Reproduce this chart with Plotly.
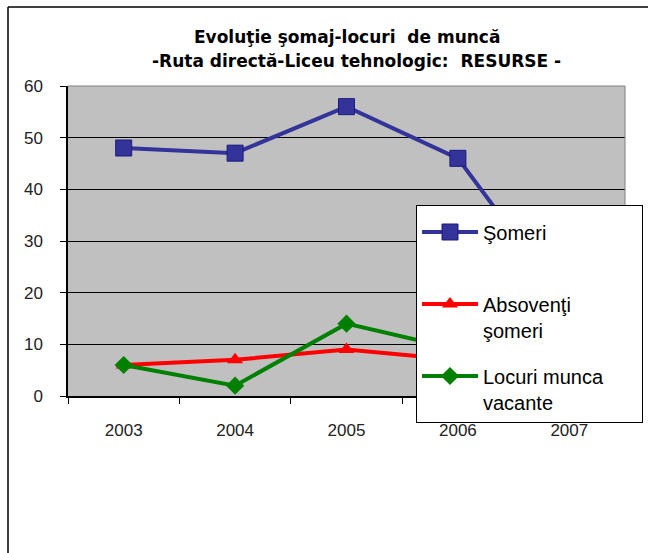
import plotly.graph_objects as go

years = ["2003", "2004", "2005", "2006", "2007"]
someri = [48, 47, 56, 46, 17]
absolventi_someri = [6, 7, 9, 7, 5]
locuri_vacante = [6, 2, 14, 9, 8]
y_ticks = [0, 10, 20, 30, 40, 50, 60]

W, H = 648, 553
L, R, T, B = 68, 625, 86, 396  # plot area in pixels

NB = "\u00a0"

fig = go.Figure()

fig.add_trace(go.Scatter(
    x=years, y=someri, name="Şomeri<br>" + NB, mode="lines+markers",
    line=dict(color="#333399", width=4),
    marker=dict(symbol="square", size=16, color="#333399",
                line=dict(color="#1a1a80", width=1)),
    legendgroup="a", cliponaxis=False))
fig.add_trace(go.Scatter(
    x=years, y=absolventi_someri, name="Absovenţi<br>şomeri", mode="lines+markers",
    line=dict(color="#FF0000", width=4),
    marker=dict(symbol="triangle-up", size=14, color="#FF0000"),
    legendgroup="b", cliponaxis=False))
fig.add_trace(go.Scatter(
    x=years, y=locuri_vacante, name="Locuri munca" + NB * 6 + "<br>vacante",
    mode="lines+markers",
    line=dict(color="#008000", width=4),
    marker=dict(symbol="diamond", size=14, color="#008000"),
    legendgroup="c", cliponaxis=False))

def px_x(p):
    return (p - L) / (R - L)

def px_y(p):
    return (B - p) / (B - T)

shapes = [
    # plot area frame (top and right edges)
    dict(type="line", xref="paper", yref="paper", x0=0, x1=1, y0=1, y1=1,
         line=dict(color="#808080", width=1)),
    dict(type="line", xref="paper", yref="paper", x0=1, x1=1, y0=0, y1=1,
         line=dict(color="#808080", width=1)),
    # chart border
    dict(type="line", xref="paper", yref="paper", x0=px_x(8), x1=px_x(8),
         y0=px_y(7), y1=px_y(553), line=dict(color="#000000", width=1.5)),
    dict(type="line", xref="paper", yref="paper", x0=px_x(8), x1=px_x(648),
         y0=px_y(7), y1=px_y(7), line=dict(color="#000000", width=1.5)),
]

title_font = dict(family="DejaVu Sans, sans-serif", size=17, color="#000000")

fig.update_layout(
    width=W, height=H,
    margin=dict(l=L, r=W - R, t=T, b=H - B, autoexpand=False),
    paper_bgcolor="white",
    plot_bgcolor="#C0C0C0",
    font=dict(family="Liberation Sans, Arial, sans-serif", color="#000000"),
    showlegend=True,
    legend=dict(
        x=px_x(416), y=px_y(205), xanchor="left", yanchor="top",
        bgcolor="white", bordercolor="#000000", borderwidth=1,
        font=dict(size=20, color="#000000"),
        title=dict(text=NB, font=dict(size=5)),
        tracegroupgap=17, valign="top", itemwidth=56,
    ),
    annotations=[
        dict(text="<b>Evoluţie şomaj-locuri  de muncă</b>", xref="paper", yref="paper",
             x=px_x(347), y=px_y(37), yanchor="middle", showarrow=False, font=title_font),
        dict(text="<b>-Ruta directă-Liceu tehnologic:  RESURSE -</b>", xref="paper", yref="paper",
             x=px_x(356), y=px_y(61), yanchor="middle", showarrow=False, font=title_font),
    ],
    shapes=shapes,
)

fig.update_xaxes(
    type="category", range=[-0.5, 4.5], tickson="boundaries",
    ticks="outside", ticklen=6, tickcolor="#000000",
    showline=True, linecolor="#000000", linewidth=1.5,
    showgrid=False, zeroline=False,
    tickfont=dict(size=17, color="#222222"), ticklabelstandoff=18,
)
fig.update_yaxes(
    range=[0, 60], tickvals=y_ticks,
    ticks="outside", ticklen=6, tickcolor="#000000",
    showline=True, linecolor="#000000", linewidth=1.5,
    showgrid=True, gridcolor="#000000", gridwidth=1,
    zeroline=False,
    tickfont=dict(size=17, color="#222222"), ticklabelstandoff=14,
)

fig.write_html("out.html")
